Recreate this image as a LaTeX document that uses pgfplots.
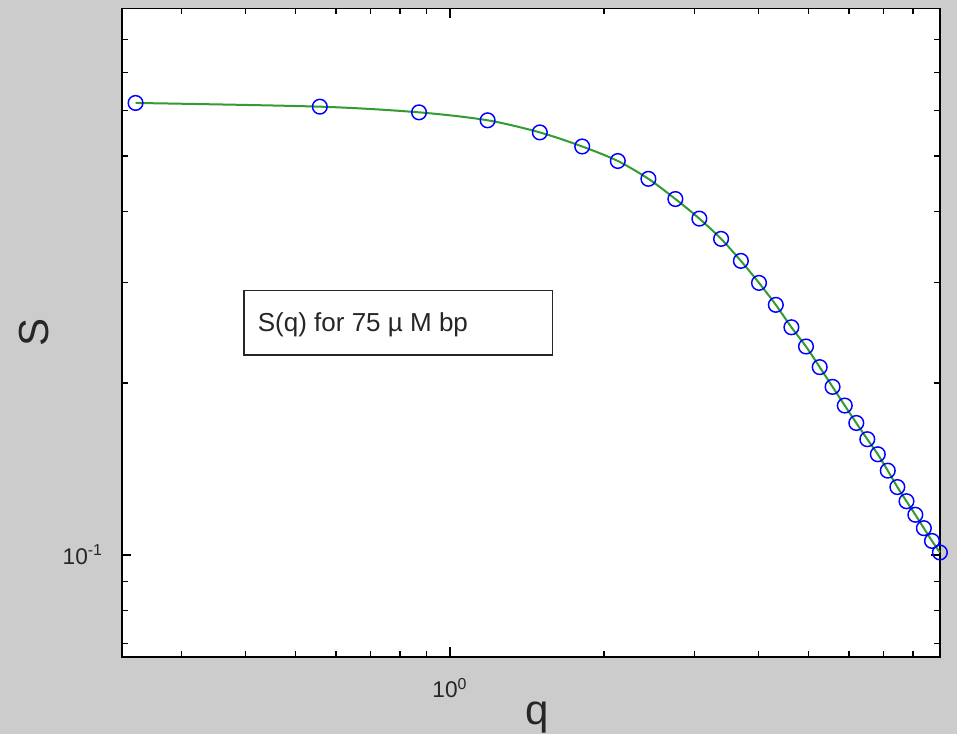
\documentclass[border=0pt]{standalone}
\usepackage{fontspec}
\setmainfont{Liberation Sans}
\usepackage{pgfplots}
\pgfplotsset{compat=1.18}
\definecolor{bggray}{RGB}{204,204,204}
\definecolor{fitgreen}{RGB}{50,155,50}
\definecolor{markblue}{RGB}{0,0,255}
\pgfplotstableread{
q S
0.244 0.6189
0.558 0.6097
0.871 0.5959
1.185 0.5771
1.498 0.5496
1.812 0.5193
2.126 0.4898
2.439 0.4558
2.753 0.4202
3.066 0.3883
3.380 0.3579
3.694 0.3275
4.007 0.2997
4.321 0.2743
4.634 0.2506
4.948 0.2319
5.262 0.2134
5.575 0.1971
5.889 0.1828
6.202 0.1704
6.516 0.1596
6.830 0.1502
7.143 0.1406
7.457 0.1316
7.770 0.1243
8.084 0.1177
8.398 0.1115
8.711 0.1059
9.025 0.1011
}\datatable
\begin{document}
\begin{tikzpicture}[x=1pt,y=1pt]
\fill[bggray] (-91.5,-57.9) rectangle (626.25,492.6);
\useasboundingbox (-91.5,-57.9) rectangle (626.25,492.6);
\begin{axis}[
  at={(0,0)}, anchor=south west,
  scale only axis, width=613.5pt, height=486.3pt,
  xmode=log, ymode=log,
  xmin=0.2296, xmax=9.03, ymin=0.0664, ymax=0.906,
  axis background/.style={fill=white},
  axis line style={line width=1.2pt, black},
  xtick={1}, xticklabels={10\textsuperscript{0}},
  ytick={0.1}, yticklabels={10\textsuperscript{-1}},
  minor xtick={0.3,0.4,0.5,0.6,0.7,0.8,0.9,2,3,4,5,6,7,8,9},
  minor ytick={0.07,0.08,0.09,0.2,0.3,0.4,0.5,0.6,0.7,0.8},
  major tick length=7pt, minor tick length=4.5pt,
  tick style={line width=1.1pt, black},
  tick align=inside,
  xticklabel style={font=\fontsize{17}{17}\selectfont, anchor=base, yshift=-30.75pt, inner sep=0pt, text=black!85},
  yticklabel style={font=\fontsize{17}{17}\selectfont, anchor=base east, xshift=-14.25pt, yshift=-6.75pt, inner sep=0pt, text=black!85},
  clip=false,
]
\addplot[only marks, mark=o, mark size=5.5pt, mark options={line width=1.1pt, draw=markblue}] table[x=q,y=S] {\datatable};
\addplot[fitgreen, line width=1.5pt, smooth, no marks] table[x=q,y=S] {\datatable};
\draw[line width=1.1pt, black!85] (rel axis cs:0.1494,0.4656) rectangle (rel axis cs:0.5263,0.5652);
\node[anchor=base west, inner sep=0pt, font=\fontsize{19.5}{19.5}\selectfont, text=black!85] at (rel axis cs:0.1658,0.5017) {S(q) for 75 µ M bp};
\node[anchor=base, inner sep=0pt, font=\fontsize{31.5}{31.5}\selectfont, text=black!85] at ([xshift=5pt,yshift=-50.4pt]rel axis cs:0.5,0) {q};
\node[rotate=90, anchor=base, inner sep=0pt, font=\fontsize{31.5}{31.5}\selectfont, text=black!85] at ([xshift=-54.75pt]rel axis cs:0,0.5) {S};
\end{axis}
\end{tikzpicture}
\end{document}
